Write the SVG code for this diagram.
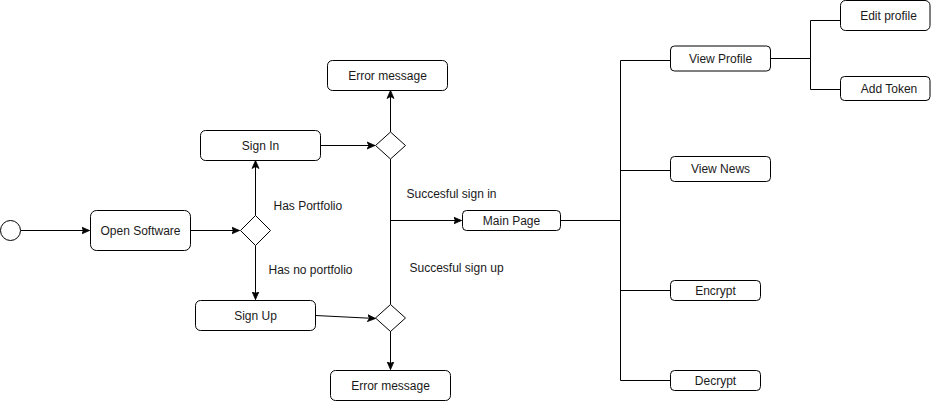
<svg xmlns="http://www.w3.org/2000/svg" width="931" height="401" viewBox="0 0 931 401">
<style>
.n rect,.n circle,.n polygon{fill:#fff;stroke:#000;stroke-width:1}
.t{font-family:"Liberation Sans",Arial,sans-serif;font-size:12px;fill:#1a1a1a;text-anchor:middle;dominant-baseline:central}
.l{font-family:"Liberation Sans",Arial,sans-serif;font-size:12px;fill:#1a1a1a;dominant-baseline:central}
.c path{fill:none;stroke:#000;stroke-width:1}
</style>
<defs>
<marker id="a" markerUnits="userSpaceOnUse" markerWidth="10" markerHeight="10" viewBox="0 0 10 10" refX="8" refY="5" orient="auto">
<path d="M0,1.5 L8,5 L0,8.5 L2,5 Z" fill="#000" stroke="#000" stroke-width="0.8"/>
</marker>
</defs>
<rect width="931" height="401" fill="#fff"/>
<g id="connectors" class="c">
<path d="M20.5,230.5 H89.5" marker-end="url(#a)"/>
<path d="M190.5,230.5 H239.5" marker-end="url(#a)"/>
<path d="M255.5,215.5 V160.5" marker-end="url(#a)"/>
<path d="M255.5,245.5 V299.5" marker-end="url(#a)"/>
<path d="M320.5,145.5 H375" marker-end="url(#a)"/>
<path d="M390.5,132 V90.5" marker-end="url(#a)"/>
<path d="M390.5,159 V304.5"/>
<path d="M390.5,220.5 H461.5" marker-end="url(#a)"/>
<path d="M315.5,315.5 L375.5,318.5" marker-end="url(#a)"/>
<path d="M390.5,331 V369.5" marker-end="url(#a)"/>
<path d="M560.5,220.5 H620.5"/>
<path d="M620.5,60.5 V380.5"/>
<path d="M620.5,60.5 H670.5"/>
<path d="M620.5,170.5 H670.5"/>
<path d="M620.5,290.5 H670.5"/>
<path d="M620.5,380.5 H670.5"/>
<path d="M770.5,58.5 H810.5 M810.5,20.5 V89.5 M810.5,20.5 H840.5 M810.5,89.5 H840.5"/>
</g>
<g id="start" class="n"><circle cx="10.5" cy="230.5" r="10"/></g>
<g id="open-software" class="n"><rect x="90.5" y="210.5" width="100" height="40" rx="6"/><text class="t" x="140.5" y="230.5">Open Software</text></g>
<g id="decision-portfolio" class="n"><polygon points="240.5,230.5 255.5,215.5 270.5,230.5 255.5,245.5"/></g>
<g id="sign-in" class="n"><rect x="200.5" y="130.5" width="120" height="30" rx="5"/><text class="t" x="260.5" y="145.5">Sign In</text></g>
<g id="sign-up" class="n"><rect x="195.5" y="300.5" width="120" height="30" rx="5"/><text class="t" x="255.5" y="315.5">Sign Up</text></g>
<g id="decision-signin" class="n"><polygon points="375.5,145.5 390.5,132 405.5,145.5 390.5,159"/></g>
<g id="decision-signup" class="n"><polygon points="375.5,318 390.5,304.5 405.5,318 390.5,331.5"/></g>
<g id="error-top" class="n"><rect x="327.5" y="60.5" width="120" height="30" rx="5"/><text class="t" x="387.5" y="75.5">Error message</text></g>
<g id="error-bottom" class="n"><rect x="330.5" y="370.5" width="120" height="30" rx="5"/><text class="t" x="390.5" y="385.5">Error message</text></g>
<g id="main-page" class="n"><rect x="462.5" y="210.5" width="98" height="20" rx="4"/><text class="t" x="511.5" y="220.5">Main Page</text></g>
<g id="view-profile" class="n"><rect x="670.5" y="46" width="100" height="25" rx="4"/><text class="t" x="720.5" y="58.5">View Profile</text></g>
<g id="edit-profile" class="n"><rect x="840.5" y="0.5" width="89.5" height="30" rx="5"/><text class="t" x="888.5" y="15.5">Edit profile</text></g>
<g id="add-token" class="n"><rect x="840.5" y="76.5" width="89.5" height="24" rx="4"/><text class="t" x="889" y="88.5">Add Token</text></g>
<g id="view-news" class="n"><rect x="670.5" y="156.5" width="100" height="25" rx="4"/><text class="t" x="720.5" y="169">View News</text></g>
<g id="encrypt" class="n"><rect x="670.5" y="280.5" width="90" height="20" rx="4"/><text class="t" x="715.5" y="290.5">Encrypt</text></g>
<g id="decrypt" class="n"><rect x="670.5" y="370.5" width="90" height="20" rx="4"/><text class="t" x="715.5" y="380.5">Decrypt</text></g>
<g id="labels">
<text class="l" x="273.5" y="205.5">Has Portfolio</text>
<text class="l" x="268.5" y="269.5">Has no portfolio</text>
<text class="l" x="406.5" y="193.5">Succesful sign in</text>
<text class="l" x="409.5" y="267.5">Succesful sign up</text>
</g>
</svg>
